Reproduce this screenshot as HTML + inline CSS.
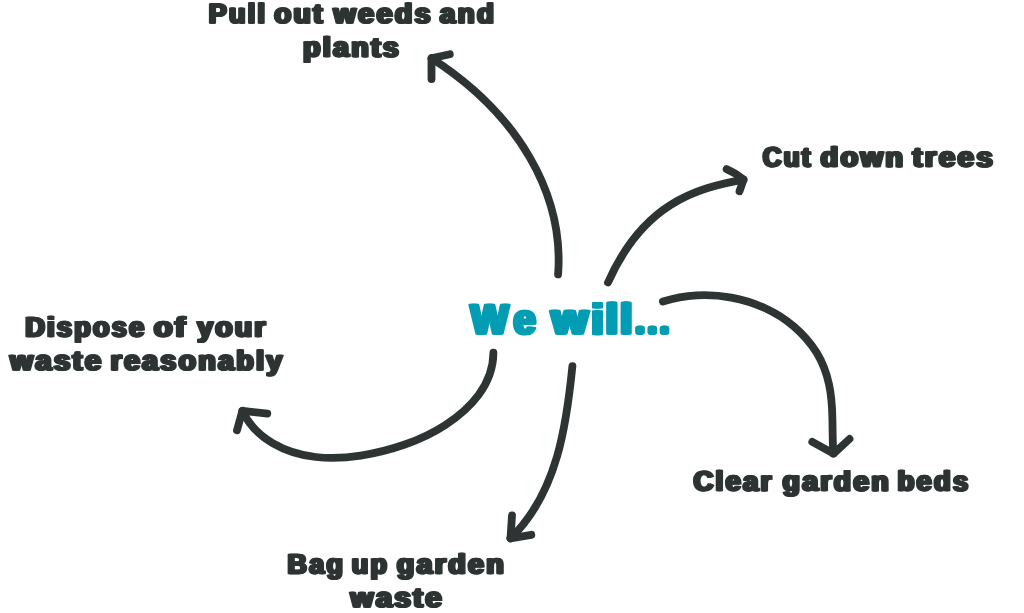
<!DOCTYPE html>
<html>
<head>
<meta charset="utf-8">
<title>We will...</title>
<style>
html,body{margin:0;padding:0;background:#ffffff;}
body{width:1024px;height:613px;overflow:hidden;font-family:"Liberation Sans",sans-serif;}
svg{display:block;}
text{font-family:"Liberation Sans",sans-serif;font-weight:bold;stroke-linejoin:round;}
.t{font-size:27.8px;letter-spacing:2.4px;fill:#2d3433;stroke:#2d3433;stroke-width:1.4px;}
.c{font-size:40.0px;letter-spacing:0.0px;fill:#029db3;stroke:#029db3;stroke-width:3.6px;}
.a{fill:none;stroke:#2d3433;stroke-width:7.8;stroke-linecap:round;stroke-linejoin:round;}
</style>
</head>
<body>
<svg width="1024" height="613" viewBox="0 0 1024 613" style="will-change:transform;filter:blur(0.35px)">
<g id="arrows">
<path class="a" d="M558.1 274.4 C564.1 194.6 518.6 114.3 431.5 58.2"/>
<path class="a" d="M431.5 79 L431.5 58.2 L449.8 54.3"/>
<path class="a" d="M608 282.5 C642.9 204 695.1 188.3 743.6 179.6"/>
<path class="a" d="M726.6 169.1 Q735.8 173 743.6 179.4 L739.5 191.3"/>
<path class="a" d="M662.9 301.5 C673.8 298.0 685.2 295.9 696.7 295.3 C708.3 294.7 720.0 295.4 731.4 297.6 C742.9 299.7 754.1 303.2 764.7 308.0 C775.2 312.8 785.1 319.0 793.9 326.4 C802.7 333.9 810.4 342.6 816.5 352.4 C822.5 362.2 826.6 373.0 829.0 384.3 C831.5 395.6 832.2 407.3 832.4 419.0 C832.7 430.7 832.5 442.4 833.4 453.6"/>
<path class="a" d="M812.3 441.9 L833.6 453.6 L849.5 439"/>
<path class="a" d="M572.4 366.1 C566.8 422.3 557.9 492.8 510.4 538.4"/>
<path class="a" d="M512 515.5 L510.5 538.3 L531.3 534.8"/>
<path class="a" d="M493.4 352.7 C493.3 368.7 487.6 382.6 478.7 394.7 C469.9 406.7 458.0 416.7 445.4 424.9 C432.8 433.1 419.1 439.5 404.8 444.5 C390.5 449.5 375.6 453.2 360.7 455.6 C345.7 458.0 330.5 458.7 315.7 457.0 C300.8 455.2 285.9 450.9 273.0 443.3 C260.0 435.8 249.0 425.1 242.4 410.8"/>
<path class="a" d="M237 430.2 L242.4 410.8 L267.3 413.6"/>
</g>
<g id="labels">
<g class="t" transform="translate(208.76 22.90) rotate(0.03) scale(0.9676 1)"><text id="w0">Pull</text><use href="#w0" x="-1.1"/><use href="#w0" x="1.1"/></g>
<g class="t" transform="translate(274.23 22.90) rotate(0.03) scale(1.0036 1)"><text id="w1">out</text><use href="#w1" x="-1.1"/><use href="#w1" x="1.1"/></g>
<g class="t" transform="translate(333.68 22.90) rotate(0.03) scale(1.0226 1)"><text id="w2">weeds</text><use href="#w2" x="-1.1"/><use href="#w2" x="1.1"/></g>
<g class="t" transform="translate(439.96 22.90) rotate(0.03) scale(0.9944 1)"><text id="w3">and</text><use href="#w3" x="-1.1"/><use href="#w3" x="1.1"/></g>
<g class="t" transform="translate(303.16 56.60) rotate(0.03) scale(1.0179 1)"><text id="w4">plants</text><use href="#w4" x="-1.1"/><use href="#w4" x="1.1"/></g>
<g class="t" transform="translate(762.67 166.60) rotate(0.03) scale(0.9346 1)"><text id="w5">Cut</text><use href="#w5" x="-1.1"/><use href="#w5" x="1.1"/></g>
<g class="t" transform="translate(820.56 166.60) rotate(0.03) scale(1.0326 1)"><text id="w6">down</text><use href="#w6" x="-1.1"/><use href="#w6" x="1.1"/></g>
<g class="t" transform="translate(912.60 166.60) rotate(0.03) scale(1.0531 1)"><text id="w7">trees</text><use href="#w7" x="-1.1"/><use href="#w7" x="1.1"/></g>
<g class="t" transform="translate(693.61 490.60) rotate(0.03) scale(0.9806 1)"><text id="w8">Clear</text><use href="#w8" x="-1.1"/><use href="#w8" x="1.1"/></g>
<g class="t" transform="translate(782.64 490.60) rotate(0.03) scale(1.0135 1)"><text id="w9">garden</text><use href="#w9" x="-1.1"/><use href="#w9" x="1.1"/></g>
<g class="t" transform="translate(897.56 490.60) rotate(0.03) scale(0.9791 1)"><text id="w10">beds</text><use href="#w10" x="-1.1"/><use href="#w10" x="1.1"/></g>
<g class="t" transform="translate(25.36 336.40) rotate(0.03) scale(0.9692 1)"><text id="w11">Dispose</text><use href="#w11" x="-1.1"/><use href="#w11" x="1.1"/></g>
<g class="t" transform="translate(154.01 336.40) rotate(0.03) scale(1.0862 1)"><text id="w12">of</text><use href="#w12" x="-1.1"/><use href="#w12" x="1.1"/></g>
<g class="t" transform="translate(197.32 336.40) rotate(0.03) scale(1.0092 1)"><text id="w13">your</text><use href="#w13" x="-1.1"/><use href="#w13" x="1.1"/></g>
<g class="t" transform="translate(10.24 369.90) rotate(0.03) scale(1.0454 1)"><text id="w14">waste</text><use href="#w14" x="-1.1"/><use href="#w14" x="1.1"/></g>
<g class="t" transform="translate(110.56 369.90) rotate(0.03) scale(1.0192 1)"><text id="w15">reasonably</text><use href="#w15" x="-1.1"/><use href="#w15" x="1.1"/></g>
<g class="t" transform="translate(287.56 573.40) rotate(0.03) scale(0.9651 1)"><text id="w16">Bag</text><use href="#w16" x="-1.1"/><use href="#w16" x="1.1"/></g>
<g class="t" transform="translate(351.78 573.40) rotate(0.03) scale(0.9669 1)"><text id="w17">up</text><use href="#w17" x="-1.1"/><use href="#w17" x="1.1"/></g>
<g class="t" transform="translate(396.95 573.40) rotate(0.03) scale(1.0191 1)"><text id="w18">garden</text><use href="#w18" x="-1.1"/><use href="#w18" x="1.1"/></g>
<g class="t" transform="translate(350.64 606.90) rotate(0.03) scale(1.0476 1)"><text id="w19">waste</text><use href="#w19" x="-1.1"/><use href="#w19" x="1.1"/></g>
<g class="c" style="stroke-width:2.4px;" transform="translate(470.97 333.60) rotate(0.03) scale(0.9879 1.04)"><text id="w20">W</text><use href="#w20" x="-1.4"/><use href="#w20" x="1.4"/></g>
<g class="c" style="stroke-width:2.0px;" transform="translate(513.82 333.80) rotate(0.03) scale(0.9760 1.07)"><text id="w21">e</text><use href="#w21" x="-1.5"/><use href="#w21" x="1.5"/></g>
<g class="c" style="stroke-width:2.4px;" transform="translate(551.79 333.60) rotate(0.03) scale(1.1436 1.06)"><text id="w22">w</text><use href="#w22" x="-1.4"/><use href="#w22" x="1.4"/></g>
<g class="c" style="stroke-width:2.2px;" transform="translate(592.71 333.70) rotate(0.03) scale(0.8520 1.065)"><text id="w23">i</text><use href="#w23" x="-2.7"/><use href="#w23" x="2.7"/></g>
<g class="c" transform="translate(607.04 333.00) rotate(0.03) scale(0.8736 1.025)"><text id="w24">l</text><use href="#w24" x="-2.0"/><use href="#w24" x="2.0"/></g>
<g class="c" transform="translate(621.50 333.00) rotate(0.03) scale(0.8448 1.025)"><text id="w25">l</text><use href="#w25" x="-2.0"/><use href="#w25" x="2.0"/></g>
<g class="c" style="stroke-width:5.4px;font-size:24px;" transform="translate(636.67 332.10) rotate(0.03) scale(0.9852 1)"><text id="w26">.</text><use href="#w26" x="-0.5"/><use href="#w26" x="0.5"/></g>
<g class="c" style="stroke-width:5.4px;font-size:24px;" transform="translate(648.97 332.10) rotate(0.03) scale(0.9852 1)"><text id="w27">.</text><use href="#w27" x="-0.5"/><use href="#w27" x="0.5"/></g>
<g class="c" style="stroke-width:5.4px;font-size:24px;" transform="translate(661.27 332.10) rotate(0.03) scale(0.9852 1)"><text id="w28">.</text><use href="#w28" x="-0.5"/><use href="#w28" x="0.5"/></g>
</g>
</svg>
</body>
</html>
